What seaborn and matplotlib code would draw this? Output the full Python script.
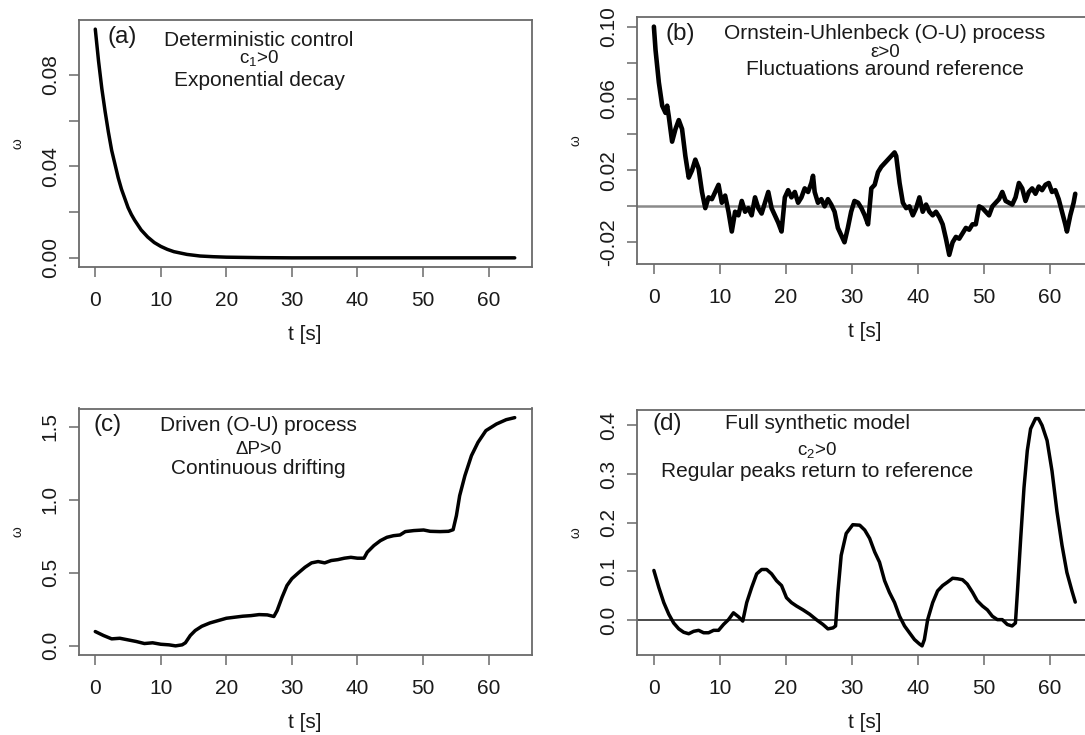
import matplotlib
matplotlib.use("Agg")
import matplotlib.pyplot as plt
import matplotlib.transforms as mtransforms
import numpy as np
import pandas as pd
import seaborn as sns

# ---------------- data ----------------
# (a) deterministic control: exponential decay
a_t = [0, 0.5, 1, 1.5, 2, 2.5, 3, 3.5, 4, 4.5, 5, 5.5, 6, 7, 8, 9, 10, 11, 12,
       14, 16, 18, 20, 25, 30, 40, 50, 64]
a_w = [0.100, 0.086, 0.074, 0.064, 0.055, 0.047, 0.041, 0.035, 0.030, 0.026,
       0.022, 0.019, 0.0165, 0.0122, 0.0091, 0.0067, 0.0050, 0.0037, 0.0027,
       0.0015, 0.0008, 0.0005, 0.0003, 0.0001, 0.0, 0.0, 0.0, 0.0]

# (b) Ornstein-Uhlenbeck process
b_t = [0.0, 0.25, 0.75, 1.26, 1.76, 2.01, 2.26, 2.76, 3.27, 3.77, 4.27, 4.77,
       5.28, 5.78, 6.28, 6.78, 7.29, 7.79, 8.29, 8.79, 9.30, 9.80, 10.30, 10.80,
       11.31, 11.81, 12.31, 12.81, 13.32, 13.82, 14.32, 14.82, 15.33, 15.83,
       16.33, 16.83, 17.34, 17.84, 18.34, 18.84, 19.35, 19.85, 20.35, 20.85,
       21.36, 21.86, 22.36, 22.86, 23.37, 23.87, 24.12, 24.37, 24.87, 25.38,
       25.88, 26.38, 26.88, 27.39, 27.89, 28.39, 28.89, 29.40, 29.90, 30.40,
       30.95, 31.46, 31.96, 32.46, 32.96, 33.47, 33.97, 34.47, 34.97, 35.48,
       35.98, 36.48, 36.73, 37.24, 37.74, 38.24, 38.74, 39.25, 39.75, 40.25,
       40.75, 41.26, 41.76, 42.26, 42.76, 43.27, 43.77, 44.27, 44.77, 45.28,
       45.78, 46.28, 46.78, 47.29, 47.79, 48.29, 48.79, 49.30, 49.80, 50.30,
       50.80, 51.31, 51.81, 52.31, 52.81, 53.32, 53.82, 54.32, 54.82, 55.33,
       55.83, 56.33, 56.83, 57.34, 57.84, 58.34, 58.84, 59.35, 59.85, 60.35,
       60.85, 61.36, 61.86, 62.36, 62.61, 63.12, 63.62, 63.87]
b_w = [0.100, 0.087, 0.069, 0.056, 0.052, 0.056, 0.050, 0.036, 0.043, 0.048,
       0.043, 0.028, 0.016, 0.020, 0.026, 0.021, 0.008, -0.001, 0.005, 0.004,
       0.008, 0.012, 0.002, 0.006, -0.003, -0.014, -0.003, -0.005, 0.003,
       -0.003, -0.001, -0.005, 0.005, -0.001, -0.004, 0.002, 0.008, -0.001,
       -0.005, -0.009, -0.014, 0.005, 0.009, 0.005, 0.008, 0.002, 0.005, 0.010,
       0.008, 0.013, 0.017, 0.008, 0.002, 0.004, 0.000, 0.004, 0.001, -0.003,
       -0.012, -0.016, -0.020, -0.012, -0.003, 0.003,
       0.002, -0.001, -0.005, -0.010, 0.010, 0.012, 0.019, 0.022, 0.024, 0.026,
       0.028, 0.030, 0.028, 0.013, 0.002, -0.001, 0.000, -0.005, -0.001, 0.005,
       -0.003, 0.001, -0.003, -0.005, -0.003, -0.006, -0.010, -0.018, -0.027,
       -0.020, -0.017, -0.018, -0.015, -0.012, -0.013, -0.010, -0.010, 0.000,
       -0.001, -0.003, -0.005, 0.000, 0.002, 0.004, 0.008, 0.003, 0.002, 0.001,
       0.005, 0.013, 0.010, 0.003, 0.008, 0.010, 0.007, 0.011, 0.009, 0.012,
       0.013, 0.008, 0.009, 0.004, -0.003, -0.010, -0.014, -0.005, 0.002, 0.007]

# (c) driven O-U process
c_t = [0, 1.25, 2.5, 3.75, 5, 6.25, 7.5, 8.75, 10, 11.25, 12.25, 13.25, 13.75,
       14.5, 15.25, 16.25, 17.5, 18.75, 20, 21.25, 22.5, 23.75, 25, 26.25,
       27.25, 27.75, 28.5, 29.25, 30, 31, 32, 33, 34, 35, 36, 37, 38, 39, 40,
       41, 41.5, 42.5, 43.5, 44.5, 45.5, 46.5, 47.3, 48.6, 50.1, 51.1, 52.6,
       53.9, 54.6, 55.1, 55.6, 56.4, 57.4, 58.4, 59.6, 61.2, 62.7, 64]
c_w = [0.098, 0.071, 0.048, 0.052, 0.041, 0.030, 0.016, 0.021, 0.011, 0.007,
       0.000, 0.007, 0.021, 0.071, 0.105, 0.134, 0.157, 0.173, 0.189, 0.196,
       0.203, 0.207, 0.214, 0.212, 0.201, 0.242, 0.333, 0.413, 0.460, 0.500,
       0.538, 0.568, 0.577, 0.568, 0.584, 0.590, 0.600, 0.606, 0.600, 0.600,
       0.641, 0.686, 0.720, 0.743, 0.754, 0.759, 0.782, 0.789, 0.793, 0.784,
       0.782, 0.784, 0.795, 0.891, 1.028, 1.165, 1.302, 1.393, 1.473, 1.518,
       1.548, 1.562]

# (d) full synthetic model
d_t = [0, 0.75, 1.5, 2.26, 3.0, 3.77, 4.52, 5.28, 6.03, 6.78, 7.54, 8.29, 9.05,
       9.80, 10.55, 11.31, 12.06, 12.81, 13.47, 14.07, 14.82, 15.58, 16.33,
       17.09, 17.84, 18.59, 19.35, 20.10, 20.85, 21.61, 22.61, 23.62, 24.62,
       25.63, 26.38, 27.14, 27.54, 27.89, 28.39, 29.15, 30.15, 31.2, 31.96,
       32.7, 33.47, 34.2, 34.97, 35.7, 36.48, 37.24, 37.99, 38.74, 39.5, 40.25,
       40.65, 41.0, 41.5, 42.26, 43.0, 43.77, 44.5, 45.28, 46.0, 46.78, 47.5,
       48.3, 49.0, 49.8, 50.55, 51.3, 52.06, 52.8, 53.57, 54.3, 54.8, 55.1,
       55.6, 56.1, 56.6, 57.1, 57.84, 58.3, 58.84, 59.6, 60.35, 61.1, 61.86,
       62.6, 63.37, 63.87]
d_w = [0.102, 0.067, 0.036, 0.012, -0.006, -0.018, -0.025, -0.028, -0.023,
       -0.021, -0.026, -0.026, -0.021, -0.021, -0.009, 0.001, 0.015, 0.007,
       -0.002, 0.036, 0.067, 0.095, 0.104, 0.104, 0.095, 0.081, 0.071, 0.046,
       0.036, 0.029, 0.021, 0.012, 0.001, -0.009, -0.018, -0.016, -0.012,
       0.057, 0.133, 0.178, 0.196, 0.195, 0.185, 0.168, 0.140, 0.119, 0.081,
       0.057, 0.036, 0.008, -0.012, -0.026, -0.040, -0.049, -0.053, -0.040,
       0.001, 0.036, 0.060, 0.071, 0.078, 0.086, 0.085, 0.083, 0.074, 0.057,
       0.040, 0.029, 0.021, 0.008, 0.001, 0.001, -0.009, -0.012, -0.006, 0.057,
       0.168, 0.272, 0.348, 0.393, 0.414, 0.414, 0.400, 0.369, 0.306, 0.223,
       0.154, 0.098, 0.060, 0.037]

x_ticks = [0, 10, 20, 30, 40, 50, 60]
a_yticks = [0.00, 0.02, 0.04, 0.06, 0.08]
a_ylabels = ["0.00", "", "0.04", "", "0.08"]
b_yticks = [-0.02, 0.00, 0.02, 0.04, 0.06, 0.08, 0.10]
b_ylabels = ["-0.02", "", "0.02", "", "0.06", "", "0.10"]
c_yticks = [0.0, 0.5, 1.0, 1.5]
c_ylabels = ["0.0", "0.5", "1.0", "1.5"]
d_yticks = [0.0, 0.1, 0.2, 0.3, 0.4]
d_ylabels = ["0.0", "0.1", "0.2", "0.3", "0.4"]

panel_labels = ["(a)", "(b)", "(c)", "(d)"]
title_lines = [
    ["Deterministic control", r"$\mathregular{c_1}$>0", "Exponential decay"],
    ["Ornstein-Uhlenbeck (O-U) process", "ε>0", "Fluctuations around reference"],
    ["Driven (O-U) process", "ΔP>0", "Continuous drifting"],
    ["Full synthetic model", r"$\mathregular{c_2}$>0", "Regular peaks return to reference"],
]

# ---------------- style ----------------
sns.set_style("white")
plt.rcParams['font.family'] = ['Liberation Sans', 'DejaVu Sans']
plt.rcParams['mathtext.fontset'] = 'custom'
plt.rcParams['mathtext.rm'] = 'Liberation Sans'
plt.rcParams['mathtext.it'] = 'Liberation Sans:italic'

FRAME = '#6a6a6a'
TXT = '#1a1a1a'

fig = plt.figure(figsize=(10.85, 7.35), dpi=100)
fig.patch.set_facecolor('white')

W, H = 1085.0, 735.0
boxes = [  # left, top, right, bottom in pixels
    (78.5, 20.0, 531.5, 267.0),
    (637.0, 17.5, 1093.0, 264.0),
    (78.5, 408.5, 531.5, 655.0),
    (637.0, 409.5, 1093.0, 655.0),
]

series = [(a_t, a_w), (b_t, b_w), (c_t, c_w), (d_t, d_w)]
yticks = [a_yticks, b_yticks, c_yticks, d_yticks]
ylabels = [a_ylabels, b_ylabels, c_ylabels, d_ylabels]
label_x = [4.1, 4.0, 1.9, 2.1]
label_y = [0.932, 0.932, 0.933, 0.939]
text_x = [25.0, 35.0, 24.9, 24.8]
text_y = [[0.919, 0.845, 0.757], [0.936, 0.858, 0.791],
          [0.933, 0.832, 0.757], [0.943, 0.837, 0.749]]
zero_line = [None, ('#8a8a8a', 1.8), None, ('#3a3a3a', 1.3)]
line_w = [2.5, 3.3, 2.5, 2.5]

for i in range(4):
    l, t, r, b = boxes[i]
    ax = fig.add_axes([l / W, 1 - b / H, (r - l) / W, (b - t) / H])
    tt, ww = series[i]
    df = pd.DataFrame({"t": tt, "w": ww})
    if zero_line[i] is not None:
        ax.axhline(0, color=zero_line[i][0], lw=zero_line[i][1], zorder=1)
    sns.lineplot(data=df, x="t", y="w", ax=ax, color='black', lw=line_w[i],
                 estimator=None, sort=False, zorder=3)
    # R-style 4% axis extension
    tmin, tmax = min(tt), 64.0
    ax.set_xlim(tmin - 0.04 * (tmax - tmin), tmax + 0.04 * (tmax - tmin))
    wmin, wmax = min(ww), max(ww)
    ax.set_ylim(wmin - 0.04 * (wmax - wmin), wmax + 0.04 * (wmax - wmin))

    ax.set_xticks(x_ticks)
    ax.set_xticklabels([str(v) for v in x_ticks])
    ax.set_yticks(yticks[i])
    ax.set_yticklabels(ylabels[i], rotation=90, va='center')
    ax.tick_params(axis='both', which='major', direction='out', length=7,
                   width=1.1, color=FRAME, labelsize=15, labelcolor=TXT,
                   bottom=True, left=True)
    ax.tick_params(axis='x', pad=10)
    ax.tick_params(axis='y', pad=6.5)
    for sp in ax.spines.values():
        sp.set_visible(True)
        sp.set_color(FRAME)
        sp.set_linewidth(1.3)

    ax.set_xlabel("t [s]", fontsize=15, color=TXT, labelpad=11)
    ax.set_ylabel("ω", fontsize=10, color=TXT, rotation=90, labelpad=12)

    trans = mtransforms.blended_transform_factory(ax.transData, ax.transAxes)
    ax.text(label_x[i], label_y[i], panel_labels[i], transform=trans,
            ha='center', va='center', fontsize=17.5, color=TXT)
    sizes = [15, 13.5, 15]
    for k, line in enumerate(title_lines[i]):
        ax.text(text_x[i], text_y[i][k], line, transform=trans, ha='center',
                va='center', fontsize=sizes[k], color=TXT)

fig.savefig("out.png", dpi=100, facecolor='white')
